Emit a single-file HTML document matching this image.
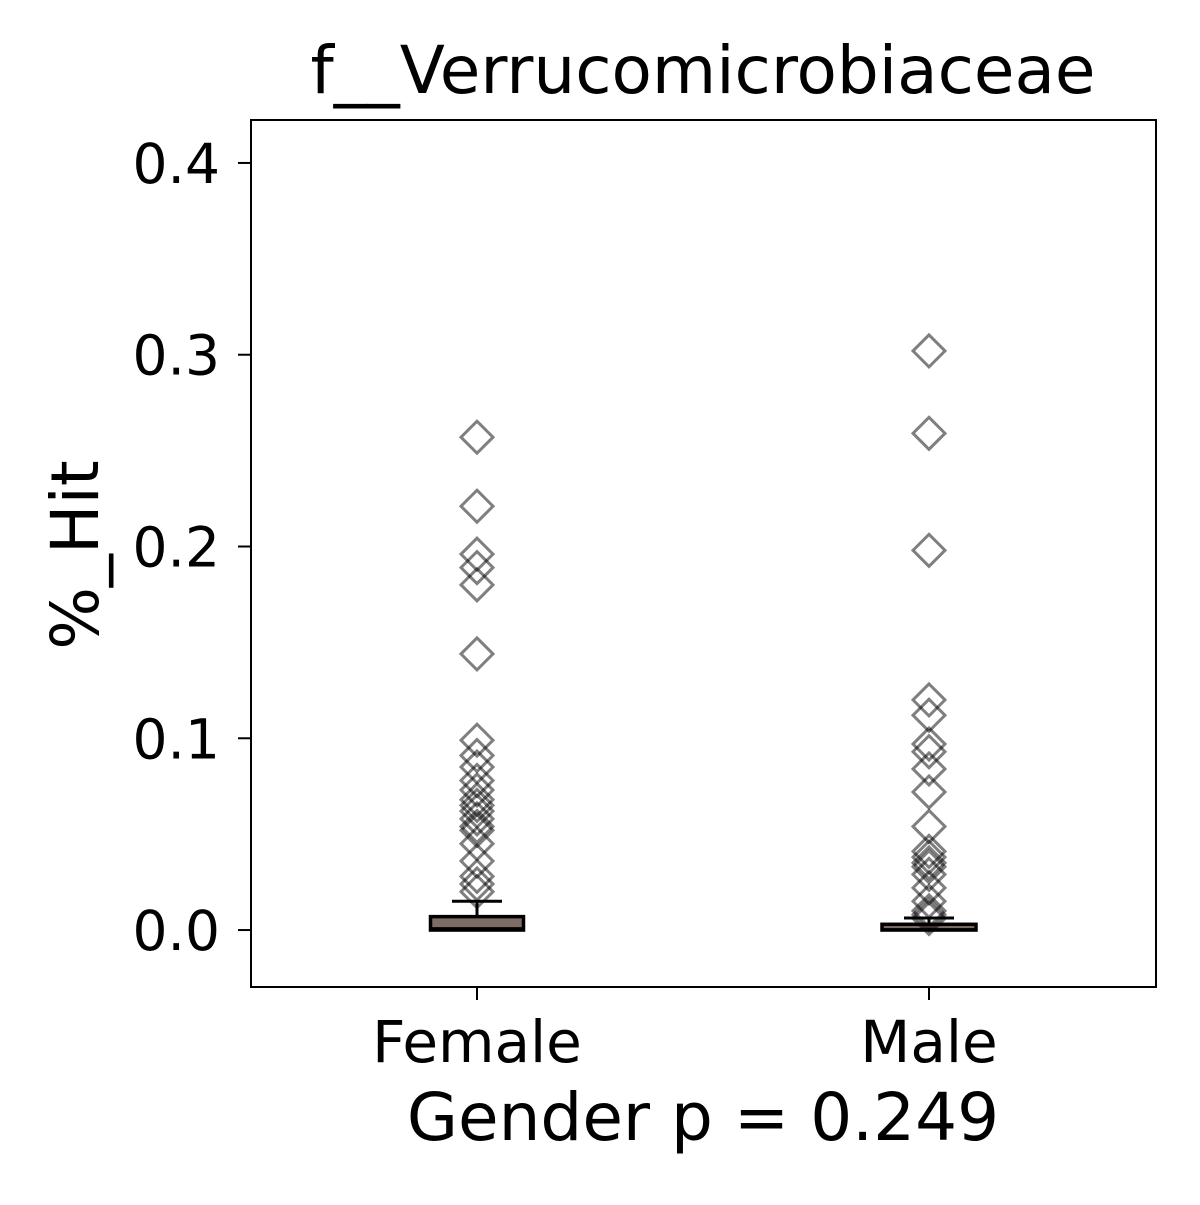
<!DOCTYPE html>
<html><head><meta charset="utf-8"><style>
html,body{margin:0;padding:0;background:#fff;}
svg text{font-family:"DejaVu Sans","Liberation Sans",sans-serif;fill:#000;}
</style></head><body>
<svg id="chart" width="1200" height="1200" viewBox="0 0 1200 1200" xmlns="http://www.w3.org/2000/svg">
<rect x="0" y="0" width="1200" height="1200" fill="#fff"/>
<g id="marks"></g>
<rect x="251" y="120" width="905" height="867" fill="none" stroke="#000" stroke-width="2"/>
<g id="axes"></g>
<text x="703" y="93" font-size="66" text-anchor="middle">f__Verrucomicrobiaceae</text>
<text x="703" y="1140" font-size="66" text-anchor="middle">Gender p = 0.249</text>
<text transform="translate(98,555) rotate(-90)" font-size="66" text-anchor="middle">%_Hit</text>
</svg>
<script>
const categories = ["Female", "Male"];
const q1 = [0.0, 0.0];
const median = [0.001, 0.0005];
const q3 = [0.007, 0.003];
const whiskerHi = [0.015, 0.0063];
const whiskerLo = [0.0, 0.0];
const outliersFemale = [0.257,0.221,0.196,0.189,0.180,0.144,0.099,0.091,0.085,0.078,0.073,0.068,0.065,0.062,0.058,0.054,0.052,0.045,0.036,0.028,0.024,0.020];
const outliersMale = [0.302,0.259,0.198,0.120,0.112,0.097,0.093,0.084,0.072,0.054,0.041,0.038,0.035,0.033,0.029,0.022,0.015,0.010,0.008,0.006];
const yTicks = [0.0, 0.1, 0.2, 0.3, 0.4];
const yTickLabels = ["0.0", "0.1", "0.2", "0.3", "0.4"];

const NS = "http://www.w3.org/2000/svg";
const yMin = -0.0297, yMax = 0.4224, plotTop = 120, plotBottom = 987;
function y(v){ return plotBottom - (v - yMin) / (yMax - yMin) * (plotBottom - plotTop); }
const xPos = [477, 929];
function x(i){ return xPos[i]; }
function mk(tag, attrs, parent){ const e = document.createElementNS(NS, tag); for (const k in attrs) e.setAttribute(k, attrs[k]); parent.appendChild(e); return e; }

const marks = document.getElementById('marks');
const axes = document.getElementById('axes');
const outliers = [outliersFemale, outliersMale];
const boxHalf = [46.5, 47];
const capHalf = 25;

categories.forEach((c, i) => {
  const cx = x(i);
  const g = mk('g', {}, marks);
  
  
  const w1 = mk('line', {x1: cx, x2: cx, y1: y(q3[i]), y2: y(whiskerHi[i]), stroke: '#000', 'stroke-width': 3}, g);
  
  
  const cap = mk('line', {x1: cx - capHalf, x2: cx + capHalf, y1: y(whiskerHi[i]), y2: y(whiskerHi[i]), stroke: '#000', 'stroke-width': 3}, g);
  
  
  const b = mk('rect', {x: cx - boxHalf[i], y: y(q3[i]), width: boxHalf[i] * 2, height: Math.max(2, y(q1[i]) - y(q3[i])), fill: '#7d6b66', stroke: '#000', 'stroke-width': 3.5}, g);
  
  
  const m = mk('line', {x1: cx - boxHalf[i], x2: cx + boxHalf[i], y1: y(median[i]), y2: y(median[i]), stroke: '#000', 'stroke-width': 2}, g);
  
  
  outliers[i].forEach(v => {
    const cy = y(v), r = 16;
    const p = mk('polygon', {points: `${cx},${cy - r} ${cx + r},${cy} ${cx},${cy + r} ${cx - r},${cy}`, fill: 'none', stroke: '#000', 'stroke-opacity': 0.5, 'stroke-width': 3}, g);
    
    
  });
  const t = mk('line', {x1: cx, x2: cx, y1: 987, y2: 1000, stroke: '#000', 'stroke-width': 2}, axes);
  
  
  const l = mk('text', {x: cx, y: 1062, 'font-size': 58, 'text-anchor': 'middle'}, axes);
  l.textContent = c;
  
  
});

yTicks.forEach((v, i) => {
  const yy = y(v);
  const t = mk('line', {x1: 238, x2: 251, y1: yy, y2: yy, stroke: '#000', 'stroke-width': 2}, axes);
  
  
  const l = mk('text', {x: 220, y: yy + 20, 'font-size': 55, 'text-anchor': 'end'}, axes);
  l.textContent = yTickLabels[i];
  
  
});
</script>
</body></html>
